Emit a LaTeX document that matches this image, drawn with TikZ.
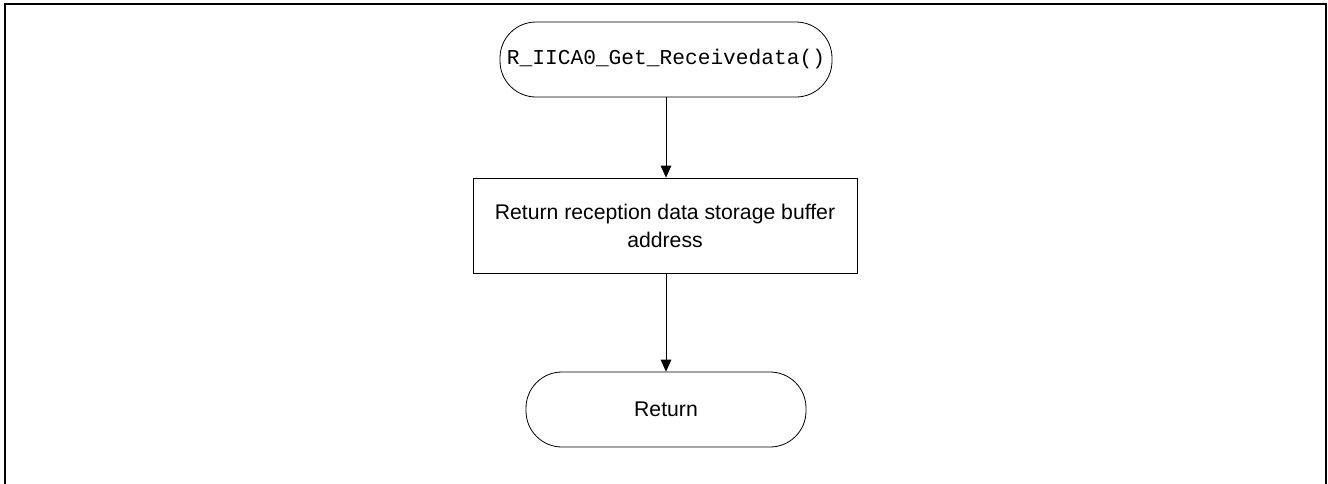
\documentclass[tikz,border=0pt]{standalone}
\usepackage{fontspec}
\setmainfont{Liberation Sans}
\setmonofont{Liberation Mono}
\usepackage{tikz}
\usetikzlibrary{arrows.meta}
\tikzset{
  frame/.style={draw=black, line width=1.5pt},
  term/.style={draw=black, line width=0.6pt, rounded corners=27pt, align=center,
    font=\fontsize{15.9}{21}\selectfont, inner sep=0pt},
  proc/.style={draw=black, line width=0.6pt, align=center,
    font=\fontsize{15.9}{21}\selectfont, inner sep=0pt},
  flow/.style={draw=black, line width=0.6pt, -{Triangle[length=9pt,width=8pt]}},
}
\begin{document}
\begin{tikzpicture}[x=0.75pt,y=-0.75pt]
  \useasboundingbox (0,0) rectangle (1328,483);
  \draw[frame] (4.5,490) -- (4.5,3.5) -- (1325.5,3.5) -- (1325.5,490);
  \node[term, minimum width=249pt, minimum height=56.25pt] (start) at (666,59.5)
    {\ttfamily R\_IICA0\_Get\_Receivedata()};
  \node[proc, minimum width=288pt, minimum height=71.25pt] (buf) at (665,225.5)
    {Return reception data storage buffer\\address};
  \node[term, minimum width=210pt, minimum height=56.25pt] (ret) at (666,409.5)
    {Return};
  \draw[flow] (start) -- (start |- buf.north);
  \draw[flow] (buf.south -| ret) -- (ret);
\end{tikzpicture}
\end{document}
